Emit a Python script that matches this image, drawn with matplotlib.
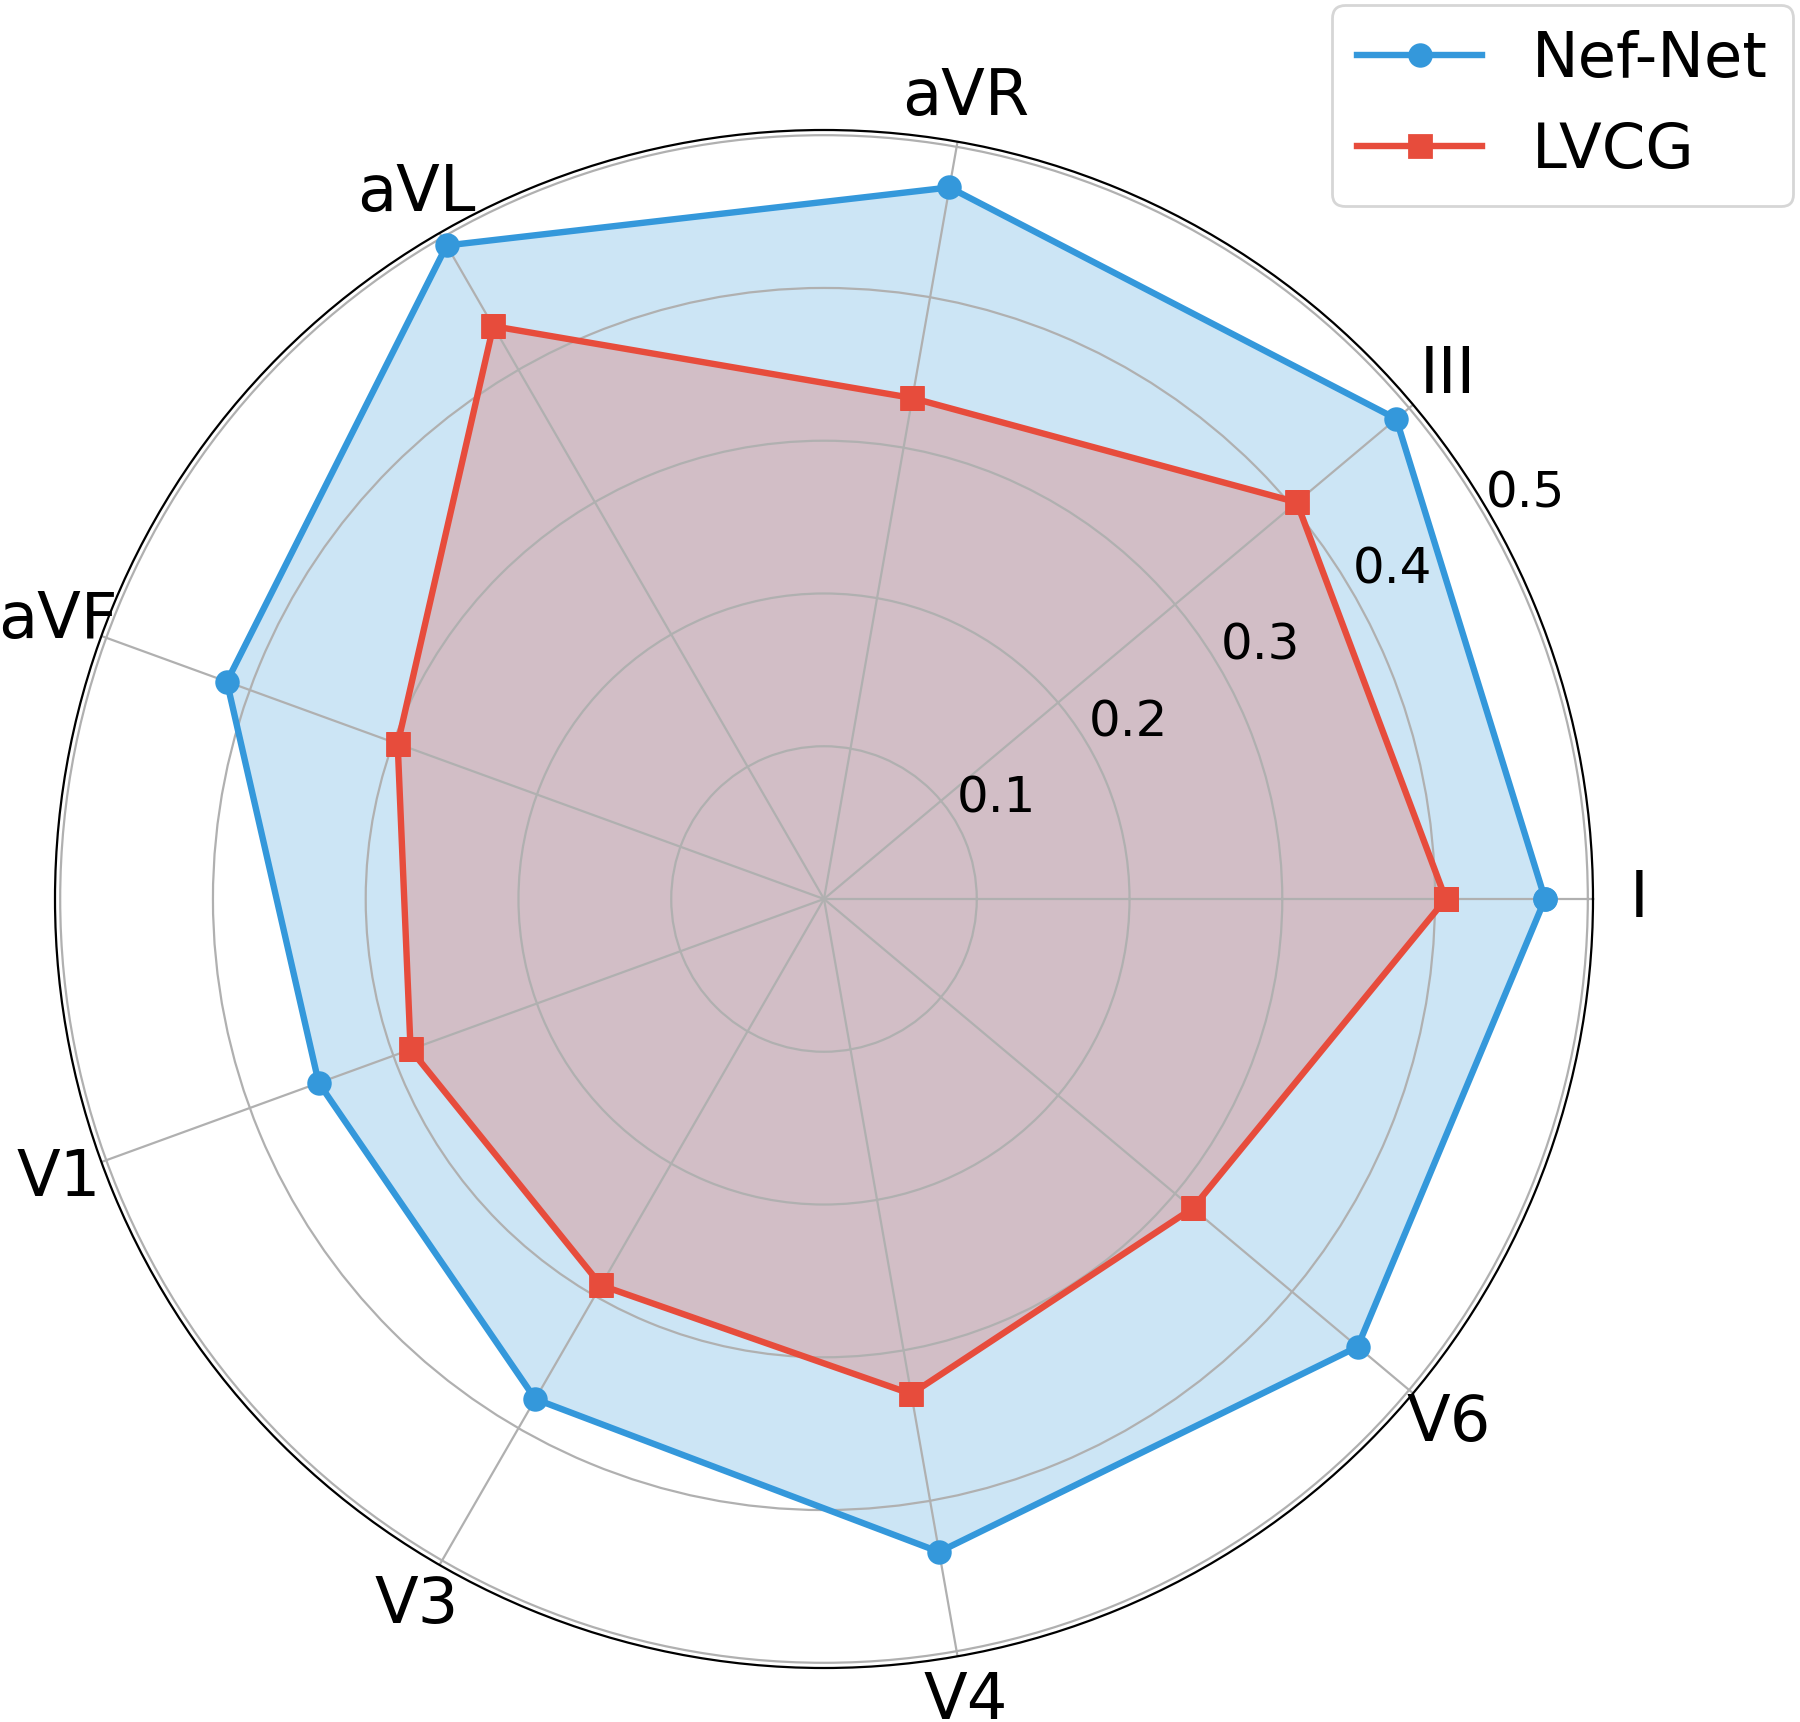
import numpy as np
import matplotlib
matplotlib.use("Agg")
import matplotlib.pyplot as plt

categories = ["I", "III", "aVR", "aVL", "aVF", "V1", "V3", "V4", "V6"]
nefnet = [0.472, 0.489, 0.473, 0.494, 0.416, 0.352, 0.378, 0.434, 0.456]
lvcg = [0.407, 0.404, 0.333, 0.433, 0.297, 0.288, 0.292, 0.329, 0.315]
rticks = [0.1, 0.2, 0.3, 0.4, 0.5]
rtick_labels = ["0.1", "0.2", "0.3", "0.4", "0.5"]

blue = "#3498db"
red = "#e74c3c"

DPI = 200
fig = plt.figure(figsize=(1800 / DPI, 1722 / DPI), dpi=DPI)
ax = fig.add_axes([55 / 1800, (1722 - 1668) / 1722, 1538 / 1800, 1538 / 1722], projection="polar")

n = len(categories)
angles = np.linspace(0, 2 * np.pi, n, endpoint=False)
ang_c = np.concatenate([angles, angles[:1]])

def closed(v):
    return np.concatenate([v, v[:1]])

ax.plot(ang_c, closed(nefnet), color=blue, lw=2.3, marker="o", ms=7.8, label="Nef-Net")
ax.fill(ang_c, closed(nefnet), color=blue, alpha=0.25, lw=0)
ax.plot(ang_c, closed(lvcg), color=red, lw=2.3, marker="s", ms=7.8, label="LVCG")
ax.fill(ang_c, closed(lvcg), color=red, alpha=0.25, lw=0)

ax.set_xticks(angles)
ax.set_xticklabels(categories, fontsize=23)
ax.tick_params(axis="x", pad=6)
ax.set_ylim(0, 0.5034)
ax.set_yticks(rticks)
ax.set_yticklabels(rtick_labels, fontsize=18)
ax.set_rlabel_position(30)
ax.grid(True, color="#b0b0b0", lw=0.8)

fig.legend(loc="upper right", bbox_to_anchor=(1793 / 1800, 1 - 5 / 1722),
           bbox_transform=fig.transFigure, fontsize=22.5, borderaxespad=0)

fig.savefig("out.png", dpi=DPI)
